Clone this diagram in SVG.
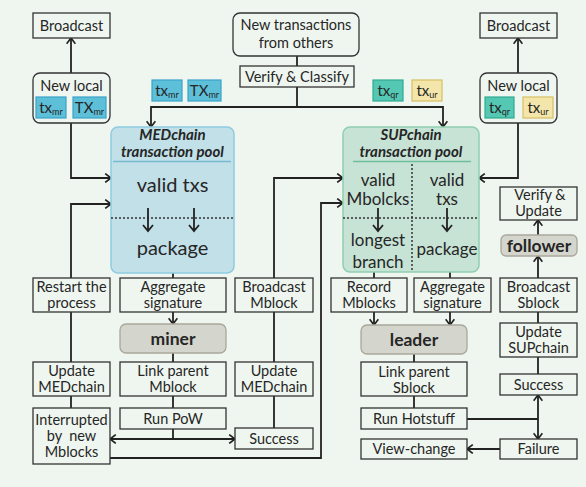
<svg xmlns="http://www.w3.org/2000/svg" width="586" height="487" viewBox="0 0 586 487">
<style>
text{font-family:Lato,"Noto Sans","Liberation Sans",sans-serif;fill:#262626;text-anchor:middle}
.lb{font-size:14.5px}
.big{font-size:20px}
.mid{font-size:17px}
.role{font-size:17.5px;font-weight:bold}
.ttl{font-size:15px;font-weight:bold;font-style:italic}
.st{font-size:15px}
.sub{font-size:9px}
.pre{white-space:pre}
.box{fill:#eff6f0;stroke:#333;stroke-width:1.3}
.rbox{fill:#eff6f0;stroke:#333;stroke-width:1.3}
.role-box{fill:#d4d5cc;stroke:#aaa79a;stroke-width:1.3}
.mr{fill:#5dbfd8;stroke:#39a3cc;stroke-width:1.2}
.qr{fill:#55c8b4;stroke:#2fab92;stroke-width:1.2}
.ur{fill:#f4e6aa;stroke:#d6bf62;stroke-width:1.2}
.ln{fill:none;stroke:#222;stroke-width:1.8}
.dot{fill:none;stroke:#333;stroke-width:1.5;stroke-dasharray:2 2}
</style>
<defs>
<marker id="arr" viewBox="0 0 10 10" refX="9.3" refY="5" markerWidth="10" markerHeight="10" markerUnits="userSpaceOnUse" orient="auto">
<path d="M3.5,0.6 L9.3,5 L3.5,9.4" fill="none" stroke="#222" stroke-width="1.7"/>
</marker>
</defs>
<rect x="0" y="0" width="586" height="487" fill="#eff6f0"/>

<g id="connectors">
<path class="ln" d="M71,73 V38" marker-end="url(#arr)"/>
<path class="ln" d="M71,123 V178 H111" marker-end="url(#arr)"/>
<path class="ln" d="M71,278 V204 H111" marker-end="url(#arr)"/>
<path class="ln" d="M71,312 V362"/>
<path class="ln" d="M71,396 V408"/>
<path class="ln" d="M297,56 V66"/>
<path class="ln" d="M297,87 V107 H151 V127" marker-end="url(#arr)"/>
<path class="ln" d="M297,107 H443 V127" marker-end="url(#arr)"/>
<path class="ln" d="M173,273 V278"/>
<path class="ln" d="M173,312 V324" marker-end="url(#arr)"/>
<path class="ln" d="M173,353 V362"/>
<path class="ln" d="M173,396 V408"/>
<path class="ln" d="M173,429 V439 H110" marker-end="url(#arr)"/>
<path class="ln" d="M173,439 H235" marker-end="url(#arr)"/>
<path class="ln" d="M274,278 V178 H343" marker-end="url(#arr)"/>
<path class="ln" d="M274,312 V362"/>
<path class="ln" d="M274,396 V428"/>
<path class="ln" d="M110,458 H321 V203 H343" marker-end="url(#arr)"/>
<path class="ln" d="M518,73 V38" marker-end="url(#arr)"/>
<path class="ln" d="M518,123 V178 H479" marker-end="url(#arr)"/>
<path class="ln" d="M374,272 V278"/>
<path class="ln" d="M450,272 V278"/>
<path class="ln" d="M374,312 V325" marker-end="url(#arr)"/>
<path class="ln" d="M450,312 V325" marker-end="url(#arr)"/>
<path class="ln" d="M414,354 V362"/>
<path class="ln" d="M414,396 V408"/>
<path class="ln" d="M467,419 H538"/>
<path class="ln" d="M538,419 V395" marker-end="url(#arr)"/>
<path class="ln" d="M538,419 V439" marker-end="url(#arr)"/>
<path class="ln" d="M500,449 H467" marker-end="url(#arr)"/>
<path class="ln" d="M538,374 V357"/>
<path class="ln" d="M538,323 V312"/>
<path class="ln" d="M538,278 V256" marker-end="url(#arr)"/>
<path class="ln" d="M538,235 V220" marker-end="url(#arr)"/>
</g>

<g id="broadcast-left"><rect class="box" x="33" y="13" width="77" height="25"/><text class="lb" x="71.5" y="30.5">Broadcast</text></g>
<g id="newlocal-left">
<rect class="rbox" x="33" y="73" width="77" height="50" rx="7"/>
<text class="lb" x="71.5" y="91">New local</text>
<rect class="mr" x="36" y="97" width="30" height="21"/>
<text class="st" x="51" y="113">tx<tspan class="sub" dy="2">mr</tspan></text>
<rect class="mr" x="73" y="97" width="33" height="21"/>
<text class="st" x="89.5" y="113">TX<tspan class="sub" dy="2">mr</tspan></text>
</g>
<g id="stickers-mr">
<rect class="mr" x="152" y="80" width="30" height="21"/>
<text class="st" x="167" y="96">tx<tspan class="sub" dy="2">mr</tspan></text>
<rect class="mr" x="188" y="80" width="33" height="21"/>
<text class="st" x="204.5" y="96">TX<tspan class="sub" dy="2">mr</tspan></text>
</g>
<g id="new-transactions">
<rect class="rbox" x="233" y="13" width="126" height="43" rx="7"/>
<text class="lb" x="296" y="30">New transactions</text>
<text class="lb" x="296" y="48">from others</text>
</g>
<g id="verify-classify"><rect class="box" x="240" y="66" width="114" height="21"/><text class="lb" x="297" y="81.5">Verify &amp; Classify</text></g>
<g id="stickers-sup">
<rect class="qr" x="373" y="80" width="30" height="21"/>
<text class="st" x="388" y="96">tx<tspan class="sub" dy="2">qr</tspan></text>
<rect class="ur" x="412" y="80" width="30" height="21"/>
<text class="st" x="427" y="96">tx<tspan class="sub" dy="2">ur</tspan></text>
</g>
<g id="broadcast-right"><rect class="box" x="480" y="13" width="77" height="25"/><text class="lb" x="518.5" y="30.5">Broadcast</text></g>
<g id="newlocal-right">
<rect class="rbox" x="480" y="73" width="77" height="50" rx="7"/>
<text class="lb" x="518.5" y="91">New local</text>
<rect class="qr" x="485" y="97" width="29" height="21"/>
<text class="st" x="499.5" y="113">tx<tspan class="sub" dy="2">qr</tspan></text>
<rect class="ur" x="523" y="97" width="30" height="21"/>
<text class="st" x="538" y="113">tx<tspan class="sub" dy="2">ur</tspan></text>
</g>

<g id="med-pool">
<rect x="111" y="127" width="123" height="146" rx="7" fill="#c1e0e8" stroke="#8fcbe0" stroke-width="1.5"/>
<text class="ttl" x="172.5" y="140">MEDchain</text>
<text class="ttl" x="172.5" y="157">transaction pool</text>
<line x1="113" y1="161.5" x2="231" y2="161.5" stroke="#78b9d2" stroke-width="1.5"/>
<text class="big" x="172.5" y="192">valid txs</text>
<line class="dot" x1="111" y1="218" x2="234" y2="218"/>
<path class="ln" d="M148,208 V230 M143,225 L148,231 L153,225 M194,208 V230 M189,225 L194,231 L199,225" stroke-width="1.5"/>
<text class="big" x="172.5" y="255">package</text>
</g>

<g id="sup-pool">
<rect x="343" y="127" width="136" height="145" rx="7" fill="#c6e3d5" stroke="#8fcfb0" stroke-width="1.5"/>
<text class="ttl" x="411" y="140">SUPchain</text>
<text class="ttl" x="411" y="157">transaction pool</text>
<line x1="353" y1="161.5" x2="471" y2="161.5" stroke="#6fbf9c" stroke-width="1.5"/>
<line class="dot" x1="412" y1="164" x2="412" y2="271"/>
<line class="dot" x1="343" y1="218" x2="479" y2="218"/>
<text class="mid" x="378" y="186">valid</text>
<text class="mid" x="378" y="205">Mbolcks</text>
<text class="mid" x="447" y="186">valid</text>
<text class="mid" x="447" y="205">txs</text>
<path class="ln" d="M378,208 V230 M373,225 L378,231 L383,225 M447,208 V230 M442,225 L447,231 L452,225" stroke-width="1.5"/>
<text class="mid" x="378" y="246">longest</text>
<text class="mid" x="378" y="268">branch</text>
<text class="mid" x="447" y="255">package</text>
</g>

<g id="restart"><rect class="box" x="33" y="278" width="77" height="34"/><text class="lb" x="71.5" y="292">Restart the</text><text class="lb" x="71.5" y="308">process</text></g>
<g id="aggregate-med"><rect class="box" x="120" y="278" width="106" height="34"/><text class="lb" x="173" y="292">Aggregate</text><text class="lb" x="173" y="308">signature</text></g>
<g id="broadcast-mblock"><rect class="box" x="235" y="278" width="78" height="34"/><text class="lb" x="274" y="292">Broadcast</text><text class="lb" x="274" y="308">Mblock</text></g>
<g id="miner"><rect class="role-box" x="120" y="324" width="106" height="29" rx="6"/><text class="role" x="173" y="345">miner</text></g>
<g id="update-med-left"><rect class="box" x="33" y="362" width="77" height="34"/><text class="lb" x="71.5" y="376">Update</text><text class="lb" x="71.5" y="391.5">MEDchain</text></g>
<g id="link-mblock"><rect class="box" x="120" y="362" width="106" height="34"/><text class="lb" x="173" y="376">Link parent</text><text class="lb" x="173" y="391.5">Mblock</text></g>
<g id="update-med-mid"><rect class="box" x="235" y="362" width="78" height="34"/><text class="lb" x="274" y="376">Update</text><text class="lb" x="274" y="391.5">MEDchain</text></g>
<g id="run-pow"><rect class="box" x="120" y="408" width="106" height="21"/><text class="lb" x="173" y="424">Run PoW</text></g>
<g id="interrupted"><rect class="box" x="33" y="408" width="77" height="56"/><text class="lb" x="71.5" y="425">Interrupted</text><text class="lb pre" x="71.5" y="441">by  new</text><text class="lb" x="71.5" y="456.5">Mblocks</text></g>
<g id="success-med"><rect class="box" x="235" y="428" width="78" height="21"/><text class="lb" x="274" y="444">Success</text></g>

<g id="record-mblocks"><rect class="box" x="331" y="278" width="76" height="34"/><text class="lb" x="369" y="292">Record</text><text class="lb" x="369" y="308">Mblocks</text></g>
<g id="aggregate-sup"><rect class="box" x="414" y="278" width="77" height="34"/><text class="lb" x="452.5" y="292">Aggregate</text><text class="lb" x="452.5" y="308">signature</text></g>
<g id="leader"><rect class="role-box" x="361" y="325" width="106" height="29" rx="6"/><text class="role" x="414" y="345.5">leader</text></g>
<g id="link-sblock"><rect class="box" x="361" y="362" width="106" height="34"/><text class="lb" x="414" y="377">Link parent</text><text class="lb" x="414" y="392.5">Sblock</text></g>
<g id="run-hotstuff"><rect class="box" x="361" y="408" width="106" height="21"/><text class="lb" x="414" y="424">Run Hotstuff</text></g>
<g id="view-change"><rect class="box" x="361" y="439" width="106" height="20"/><text class="lb" x="414" y="454">View-change</text></g>
<g id="failure"><rect class="box" x="500" y="439" width="77" height="20"/><text class="lb" x="538.5" y="454">Failure</text></g>
<g id="success-sup"><rect class="box" x="500" y="374" width="77" height="21"/><text class="lb" x="538.5" y="390">Success</text></g>
<g id="update-sup"><rect class="box" x="500" y="323" width="77" height="34"/><text class="lb" x="538.5" y="337">Update</text><text class="lb" x="538.5" y="352.5">SUPchain</text></g>
<g id="broadcast-sblock"><rect class="box" x="500" y="278" width="77" height="34"/><text class="lb" x="538.5" y="292">Broadcast</text><text class="lb" x="538.5" y="308">Sblock</text></g>
<g id="follower"><rect class="role-box" x="501" y="235" width="76" height="21" rx="5"/><text class="role" x="539" y="252">follower</text></g>
<g id="verify-update"><rect class="box" x="500" y="187" width="77" height="33"/><text class="lb" x="540" y="200">Verify &amp;</text><text class="lb" x="538.5" y="215.5">Update</text></g>
</svg>
